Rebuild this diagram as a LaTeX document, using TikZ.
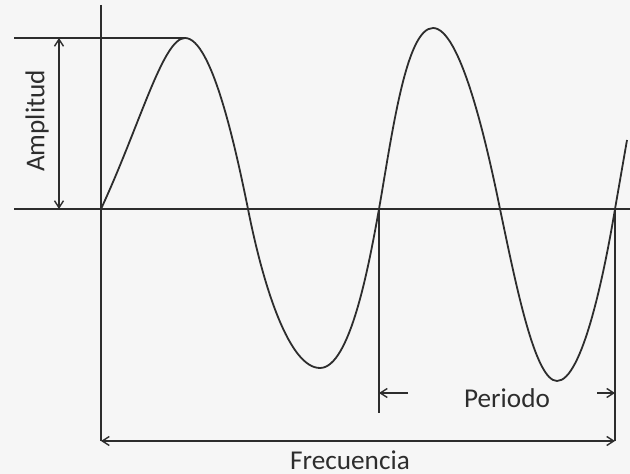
\documentclass[tikz,border=0pt]{standalone}
\usepackage{fontspec}
\setmainfont{Carlito}
\usetikzlibrary{arrows.meta}
\definecolor{inkcol}{RGB}{45,45,45}
\definecolor{bgcol}{RGB}{246,246,246}
\tikzset{
  guide/.style={inkcol,line width=0.8pt},
  wave/.style={inkcol,line width=0.9pt},
  dim/.style={inkcol,line width=0.7pt,{Straight Barb[length=3.5pt,width=4.5pt]}-{Straight Barb[length=3.5pt,width=4.5pt]}},
  dimto/.style={inkcol,line width=0.7pt,-{Straight Barb[length=3.5pt,width=4.5pt]}},
  lbl/.style={inkcol,font=\fontsize{13.6}{16}\selectfont,inner sep=0pt}
}
\begin{document}
\begin{tikzpicture}[x=0.5pt,y=-0.5pt]
\fill[bgcol] (0,0) rectangle (630,474);
\useasboundingbox (0,0) rectangle (630,474);
% axes
\coordinate (o) at (101,209);
\coordinate (ytop) at (101,5);
\coordinate (ybot) at (101,441);
\coordinate (xl) at (14,209);
\coordinate (xr) at (630,209);
\draw[guide] (ytop) -- (ybot);
\draw[guide] (xl) -- (xr);
% amplitude
\coordinate (pk) at (185,38);
\coordinate (tl) at (14,38);
\draw[guide] (tl) -- (pk);
\coordinate (at) at (59,38);
\coordinate (ab) at (59,209);
\draw[dim] (at) -- (ab);
\node[lbl,rotate=90] (amp) at (37,121) {Amplitud};
% the wave
\coordinate (z1) at (248,209);
\coordinate (tr1) at (320,368);
\coordinate (z2) at (379,209);
\coordinate (pk2) at (433,28);
\coordinate (z3) at (500,209);
\coordinate (tr2) at (557,381);
\coordinate (z4) at (615,209);
\coordinate (wend) at (627,140);
\draw[wave] (o) .. controls (140,125) and (163,38) .. (pk)
  .. controls (212,38) and (236,150) .. (z1)
  .. controls (264,290) and (290,368) .. (tr1)
  .. controls (350,368) and (369,265) .. (z2)
  .. controls (392,135) and (406,28) .. (pk2)
  .. controls (460,28) and (486,140) .. (z3)
  .. controls (516,285) and (535,381) .. (tr2)
  .. controls (582,381) and (604,275) .. (z4)
  -- (wend);
% period
\coordinate (p1) at (379,413);
\coordinate (p2) at (615,441);
\draw[guide] (z2) -- (p1);
\draw[guide] (z4) -- (p2);
\coordinate (pa) at (408,393);
\coordinate (pa1) at (379,393);
\coordinate (pb) at (597,393);
\coordinate (pb1) at (615,393);
\draw[dimto] (pa) -- (pa1);
\draw[dimto] (pb) -- (pb1);
\node[lbl] (per) at (507,398) {Periodo};
% frequency
\draw[dim] (ybot) -- (p2);
\node[lbl] (frec) at (350,460) {Frecuencia};
\end{tikzpicture}
\end{document}
